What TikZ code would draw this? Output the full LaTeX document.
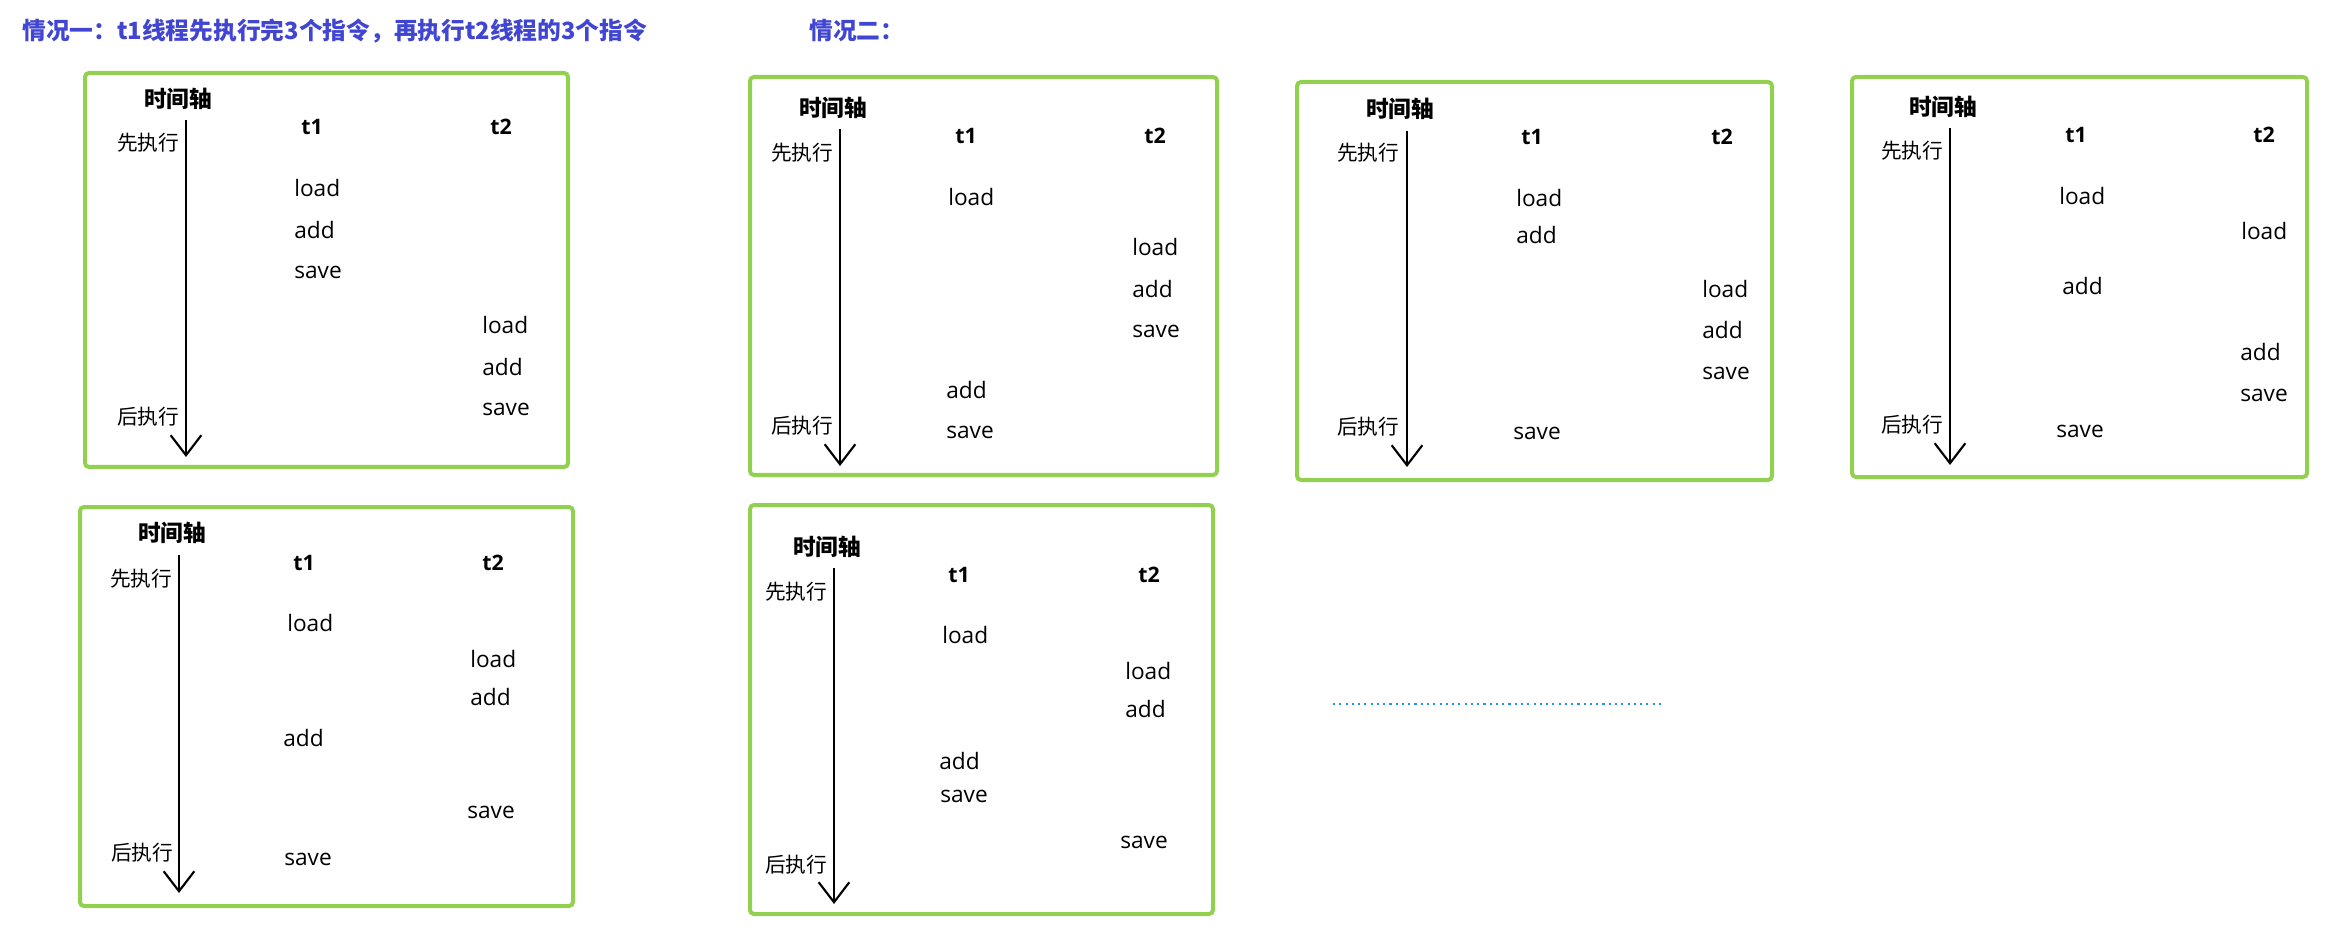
\documentclass[tikz,border=0pt]{standalone}
\usepackage{fontspec}
\setmainfont{Open Sans}
\newfontfamily\cjk{Noto Sans CJK SC}
\usetikzlibrary{arrows.meta}
\definecolor{frameg}{HTML}{92D050}
\definecolor{titleb}{HTML}{4146D2}
\definecolor{dotb}{HTML}{1E90FF}
\begin{document}
\begin{tikzpicture}[x=0.75pt,y=-0.75pt,
  frame/.style={draw=frameg,line width=3pt,rounded corners=3pt},
  axis/.style={line width=2.2pt,-{Straight Barb[length=15pt,width=23pt,line width=1.6pt]}},
  hd/.style={inner sep=0pt,font=\cjk\bfseries\fontsize{17}{20}\selectfont},
  sd/.style={inner sep=0pt,font=\cjk\fontsize{15.5}{19}\selectfont},
  th/.style={inner sep=0pt,font=\bfseries\fontsize{16}{19}\selectfont},
  op/.style={inner sep=0pt,anchor=west,font=\fontsize{17}{20}\selectfont},
  ttl/.style={inner sep=0pt,anchor=west,text=titleb,font=\cjk\bfseries\fontsize{17.8}{21}\selectfont},
  dotl/.style={draw=dotb,line width=1.6pt,dash pattern=on 1.6pt off 3.1pt}]
\useasboundingbox (0,0) rectangle (2344,937);

% titles
\node[ttl] (title1) at (22,31) {情况一：t1线程先执行完3个指令，再执行t2线程的3个指令};
\node[ttl] (title2) at (809,31) {情况二：};

% ---------- box 1 ----------
\draw[frame] (85,73) rectangle (568,467);
\node[hd] (b1ax) at (178,99) {时间轴};
\coordinate (b1s) at (186,120);
\coordinate (b1e) at (186,457);
\draw[axis] (b1s) -- (b1e);
\node[sd] (b1fs) at (148,143) {先执行};
\node[sd] (b1ls) at (148,417) {后执行};
\node[th] (b1t1) at (312,127) {t1};
\node[th] (b1t2) at (501,127) {t2};
\node[op] (b1a) at (294,188) {load};
\node[op] (b1b) at (294,230) {add};
\node[op] (b1c) at (294,272) {save};
\node[op] (b1d) at (482,325) {load};
\node[op] (b1e2) at (482,367) {add};
\node[op] (b1f) at (482,409) {save};

% ---------- box 2 ----------
\draw[frame] (80,507) rectangle (573,906);
\node[hd] (b2ax) at (172,533) {时间轴};
\coordinate (b2s) at (179,555);
\coordinate (b2e) at (179,893);
\draw[axis] (b2s) -- (b2e);
\node[sd] (b2fs) at (141,579) {先执行};
\node[sd] (b2ls) at (142,853) {后执行};
\node[th] (b2t1) at (304,563) {t1};
\node[th] (b2t2) at (493,563) {t2};
\node[op] (b2a) at (287,623) {load};
\node[op] (b2b) at (470,659) {load};
\node[op] (b2c) at (470,697) {add};
\node[op] (b2d) at (283,738) {add};
\node[op] (b2e2) at (467,812) {save};
\node[op] (b2f) at (284,859) {save};

% ---------- box 3 ----------
\draw[frame] (750,77) rectangle (1217,475);
\node[hd] (b3ax) at (833,108) {时间轴};
\coordinate (b3s) at (840,129);
\coordinate (b3e) at (840,466);
\draw[axis] (b3s) -- (b3e);
\node[sd] (b3fs) at (802,153) {先执行};
\node[sd] (b3ls) at (802,426) {后执行};
\node[th] (b3t1) at (966,136) {t1};
\node[th] (b3t2) at (1155,136) {t2};
\node[op] (b3a) at (948,197) {load};
\node[op] (b3b) at (1132,247) {load};
\node[op] (b3c) at (1132,289) {add};
\node[op] (b3d) at (1132,331) {save};
\node[op] (b3e2) at (946,390) {add};
\node[op] (b3f) at (946,432) {save};

% ---------- box 4 ----------
\draw[frame] (1297,82) rectangle (1772,480);
\node[hd] (b4ax) at (1400,109) {时间轴};
\coordinate (b4s) at (1407,131);
\coordinate (b4e) at (1407,467);
\draw[axis] (b4s) -- (b4e);
\node[sd] (b4fs) at (1368,153) {先执行};
\node[sd] (b4ls) at (1368,427) {后执行};
\node[th] (b4t1) at (1532,137) {t1};
\node[th] (b4t2) at (1722,137) {t2};
\node[op] (b4a) at (1516,198) {load};
\node[op] (b4b) at (1516,235) {add};
\node[op] (b4c) at (1702,289) {load};
\node[op] (b4d) at (1702,330) {add};
\node[op] (b4e2) at (1702,373) {save};
\node[op] (b4f) at (1513,433) {save};

% ---------- box 5 ----------
\draw[frame] (1852,77) rectangle (2307,477);
\node[hd] (b5ax) at (1943,107) {时间轴};
\coordinate (b5s) at (1950,128);
\coordinate (b5e) at (1950,465);
\draw[axis] (b5s) -- (b5e);
\node[sd] (b5fs) at (1912,151) {先执行};
\node[sd] (b5ls) at (1912,425) {后执行};
\node[th] (b5t1) at (2076,135) {t1};
\node[th] (b5t2) at (2264,135) {t2};
\node[op] (b5a) at (2059,196) {load};
\node[op] (b5b) at (2241,231) {load};
\node[op] (b5c) at (2062,286) {add};
\node[op] (b5d) at (2240,352) {add};
\node[op] (b5e2) at (2240,395) {save};
\node[op] (b5f) at (2056,431) {save};

% ---------- box 6 ----------
\draw[frame] (750,505) rectangle (1213,914);
\node[hd] (b6ax) at (827,547) {时间轴};
\coordinate (b6s) at (834,568);
\coordinate (b6e) at (834,904);
\draw[axis] (b6s) -- (b6e);
\node[sd] (b6fs) at (796,592) {先执行};
\node[sd] (b6ls) at (796,865) {后执行};
\node[th] (b6t1) at (959,575) {t1};
\node[th] (b6t2) at (1149,575) {t2};
\node[op] (b6a) at (942,635) {load};
\node[op] (b6b) at (1125,671) {load};
\node[op] (b6c) at (1125,709) {add};
\node[op] (b6d) at (939,761) {add};
\node[op] (b6e2) at (940,796) {save};
\node[op] (b6f) at (1120,842) {save};

% dotted line
\coordinate (dl) at (1333,704);
\coordinate (dr) at (1665,704);
\draw[dotl] (dl) -- (dr);
\end{tikzpicture}
\end{document}
